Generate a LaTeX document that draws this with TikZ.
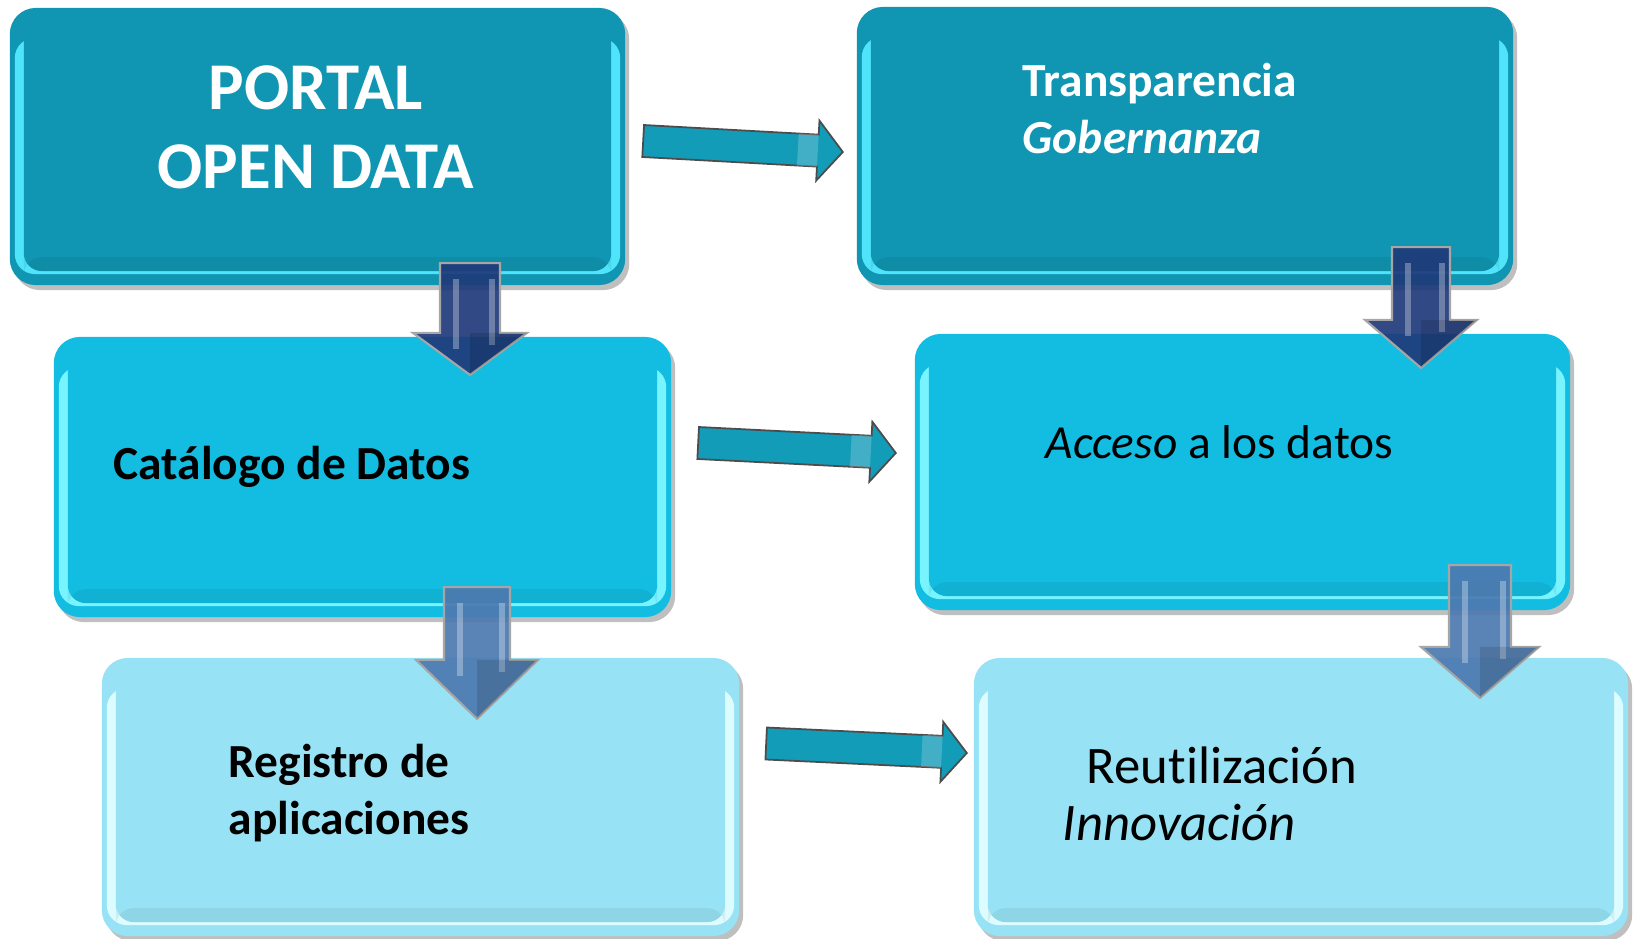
\documentclass[tikz,border=0pt]{standalone}
\usepackage{fontspec}
\setmainfont[Ligatures=CommonOff]{Carlito}
\usepackage{tikz}
\usetikzlibrary{calc, shadows}

\definecolor{tealbox}{HTML}{1096B2}
\definecolor{tealedge}{HTML}{4FE4FA}
\definecolor{cyanbox}{HTML}{13BDE2}
\definecolor{cyanedge}{HTML}{78F4FF}
\definecolor{palebox}{HTML}{97E3F5}
\definecolor{paleedge}{HTML}{DDFCFF}
\definecolor{navyarrow}{HTML}{1F3A79}
\definecolor{steelarrow}{HTML}{4D79B0}
\definecolor{tealarrow}{HTML}{139CB8}

% block arrow pointing down: style, top, tip, shaft half width, head half width, head length
\newcommand{\downblock}[6]{%
    \draw[#1] ($(#2)+(-#4,0)$) -- ($(#2)+(#4,0)$) -- ($(#3)+(#4,-#6)$) -- ($(#3)+(#5,-#6)$)
        -- (#3) -- ($(#3)+(-#5,-#6)$) -- ($(#3)+(-#4,-#6)$) -- cycle;
    \fill[white, opacity=.3] ($(#2)+(-#4+13,16)$) rectangle ($(#3)+(-#4+19,-#6+16)$);
    \fill[white, opacity=.3] ($(#2)+(#4-11,16)$) rectangle ($(#3)+(#4-5,-#6+12)$);
    \fill[black, opacity=.12] ($(#3)+(0,-#6)$) -- ($(#3)+(#5,-#6)$) -- (#3) -- cycle;
}
% block arrow pointing right: style, tail, tip
\newcommand{\rightblock}[3]{%
    \coordinate (hs) at ($(#3)!0.25cm!(#2)$);
    \coordinate (ls) at ($(#3)!0.45cm!(#2)$);
    \draw[#1] ($(#2)!0.16cm!90:(#3)$) -- ($(hs)!0.16cm!90:(#3)$) -- ($(hs)!0.30cm!90:(#3)$)
        -- (#3) -- ($(hs)!0.30cm!-90:(#3)$) -- ($(hs)!0.16cm!-90:(#3)$) -- ($(#2)!0.16cm!-90:(#3)$) -- cycle;
    \fill[white, opacity=.2] ($(ls)!0.16cm!90:(#3)$) -- ($(hs)!0.16cm!90:(#3)$)
        -- ($(hs)!0.16cm!-90:(#3)$) -- ($(ls)!0.16cm!-90:(#3)$) -- cycle;
}

\begin{document}
\begin{tikzpicture}[
    x=0.01cm, y=-0.01cm,
    box/.style={rectangle, rounded corners=0.26cm, inner sep=0pt, outer sep=0pt,
        fill=#1,
        drop shadow={shadow xshift=0.04cm, shadow yshift=-0.05cm, opacity=0.25, fill=black}},
    title text/.style={font=\fontsize{19}{22.3}\selectfont\bfseries, text=white, align=center, inner sep=0pt},
    white text/.style={font=\fontsize{13.5}{16.2}\selectfont\bfseries, text=white, align=left, inner sep=0pt},
    dark text/.style={font=\fontsize{13.5}{16.2}\selectfont, text=black, align=left, inner sep=0pt},
    big dark text/.style={font=\fontsize{15}{16.2}\selectfont, text=black, align=left, inner sep=0pt},
    down navy/.style={fill=navyarrow, draw=gray!70, line width=0.6pt, fill opacity=.92},
    down steel/.style={fill=steelarrow, draw=gray!70, line width=0.6pt, fill opacity=.92},
    side arrow/.style={fill=tealarrow, draw=gray!60!black, line width=0.5pt}
    ]
    \useasboundingbox (0,0) rectangle (1638,939);
    % boxes
    \node[box=tealbox, minimum width=6.15cm, minimum height=2.77cm] (portal) at (317.5,146.5) {};
    \node[box=tealbox, minimum width=6.56cm, minimum height=2.78cm] (transparencia) at (1185,146) {};
    \node[box=cyanbox, minimum width=6.17cm, minimum height=2.80cm] (catalogo) at (362.5,477) {};
    \node[box=cyanbox, minimum width=6.55cm, minimum height=2.76cm] (acceso) at (1242.5,472) {};
    \node[box=palebox, minimum width=6.37cm, minimum height=2.78cm] (registro) at (420.5,797) {};
    \node[box=palebox, minimum width=6.54cm, minimum height=2.78cm] (reutilizacion) at (1301,797) {};
    % bevels
    \foreach \n/\main/\edge in {portal/tealbox/tealedge, transparencia/tealbox/tealedge,
        catalogo/cyanbox/cyanedge, acceso/cyanbox/cyanedge,
        registro/palebox/paleedge, reutilizacion/palebox/paleedge} {
        \fill[\edge, rounded corners=0.2cm] ($(\n.north west)+(5,30)$) rectangle ($(\n.south east)+(-5,-11)$);
        \fill[\main, rounded corners=0.18cm] ($(\n.north west)+(14,10)$) rectangle ($(\n.south east)+(-14,-14)$);
        \fill[black, opacity=.06, rounded corners=0.18cm] ($(\n.south west)+(14,-28)$) rectangle ($(\n.south east)+(-14,-14)$);
    }
    % texts
    \node[title text, anchor=base] (portal text) at (316,188) {PORTAL\\OPEN DATA};
    \node[white text, anchor=base west] (transparencia text) at (1022,153) {Transparencia\\\textit{Gobernanza}};
    \node[dark text, anchor=base west] (catalogo text) at (113,479) {\bfseries Catálogo de Datos};
    \node[dark text, anchor=base west] (acceso text) at (1045,458) {\textit{Acceso} a los datos};
    \node[dark text, anchor=base west] (registro text) at (228,834) {\bfseries Registro de\\\bfseries aplicaciones};
    \node[big dark text, anchor=base west] (reutilizacion text) at (1062,840) {\hspace*{6.8pt}Reutilización\\\textit{Innovación}};
    % arrows between columns
    \coordinate (a1 tail) at ($(portal.east)+(18,-5.5)$);
    \coordinate (a1 tip) at ($(transparencia.west)+(-14,6)$);
    \coordinate (a2 tail) at ($(catalogo.east)+(27,-34)$);
    \coordinate (a2 tip) at ($(acceso.west)+(-19,-19)$);
    \coordinate (a3 tail) at ($(registro.east)+(27,-53.5)$);
    \coordinate (a3 tip) at ($(reutilizacion.west)+(-7,-44)$);
    \rightblock{side arrow}{a1 tail}{a1 tip}
    \rightblock{side arrow}{a2 tail}{a2 tip}
    \rightblock{side arrow}{a3 tail}{a3 tip}
    % arrows down
    \coordinate (d1 top) at ($(portal.south)+(152.5,-22)$);
    \coordinate (d1 tip) at ($(catalogo.north)+(107.5,38)$);
    \coordinate (d2 top) at ($(transparencia.south)+(236,-38)$);
    \coordinate (d2 tip) at ($(acceso.north)+(178.5,34)$);
    \coordinate (d3 top) at ($(catalogo.south)+(114.5,-30)$);
    \coordinate (d3 tip) at ($(registro.north)+(56.5,61)$);
    \coordinate (d4 top) at ($(acceso.south)+(237.5,-45)$);
    \coordinate (d4 tip) at ($(reutilizacion.north)+(179,40)$);
    \downblock{down navy}{d1 top}{d1 tip}{30}{57}{42}
    \downblock{down navy}{d2 top}{d2 tip}{29}{56}{48}
    \downblock{down steel}{d3 top}{d3 tip}{33}{61}{59}
    \downblock{down steel}{d4 top}{d4 tip}{31}{59}{51}
\end{tikzpicture}
\end{document}
